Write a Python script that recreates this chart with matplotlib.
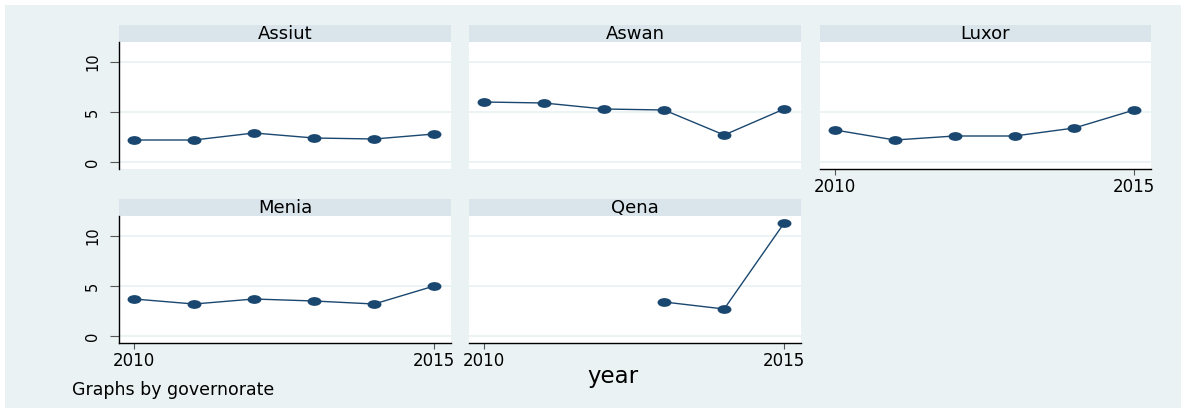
import matplotlib
matplotlib.use("Agg")
import matplotlib.pyplot as plt
import numpy as np
from matplotlib.path import Path
from matplotlib.transforms import Affine2D
from matplotlib.patches import Rectangle

# ---- data ----
years = [2010, 2011, 2012, 2013, 2014, 2015]
panels = ["Assiut", "Aswan", "Luxor", "Menia", "Qena"]
assiut = [2.2, 2.2, 2.9, 2.4, 2.3, 2.8]
aswan = [6.0, 5.9, 5.3, 5.2, 2.7, 5.3]
luxor = [3.2, 2.2, 2.6, 2.6, 3.4, 5.2]
menia = [3.7, 3.2, 3.7, 3.5, 3.2, 5.0]
qena = [np.nan, np.nan, np.nan, 3.4, 2.7, 11.3]
series = [assiut, aswan, luxor, menia, qena]
yticks = [0, 5, 10]
xticks = [2010, 2015]
xtitle = "year"
note = "Graphs by governorate"

# ---- style ----
W, H = 1186, 413
BG = "#eaf2f3"
BAND = "#d9e5eb"
NAVY = "#1a476f"
FONT = "DejaVu Sans"
plt.rcParams["font.family"] = [FONT]

fig = plt.figure(figsize=(W / 100, H / 100), dpi=100)
fig.patch.set_facecolor("white")
fig.patches.append(Rectangle((5 / W, 1 - 408 / H), (1181 - 5) / W, (408 - 5) / H,
                             transform=fig.transFigure, facecolor=BG,
                             edgecolor="none", zorder=-10))

def rect(x0, y0, x1, y1):
    return [x0 / W, 1 - y1 / H, (x1 - x0) / W, (y1 - y0) / H]

ellipse = Path.unit_circle().transformed(Affine2D().scale(1.7, 1.0))

col_x = [(119, 451), (469, 801), (820, 1151)]
row_y = [(25, 42, 169), (199, 216, 343)]
layout = [(0, 0), (0, 1), (0, 2), (1, 0), (1, 1)]
bottom_panels = {"Luxor", "Menia", "Qena"}

for name, vals, (r, c) in zip(panels, series, layout):
    x0, x1 = col_x[c]
    hy0, py0, py1 = row_y[r]
    # header band
    hax = fig.add_axes(rect(x0, hy0, x1, py0))
    hax.set_facecolor(BAND)
    hax.set_xticks([]); hax.set_yticks([])
    for s in hax.spines.values():
        s.set_visible(False)
    hax.text(0.5, 0.45, name, ha="center", va="center", fontsize=13,
             transform=hax.transAxes, color="black")
    # plot area
    ax = fig.add_axes(rect(x0, py0, x1, py1))
    ax.set_facecolor("white")
    ax.plot(years, vals, color=NAVY, lw=1.0, marker=ellipse, markersize=9,
            markerfacecolor=NAVY, markeredgecolor=NAVY, zorder=3)
    ax.set_xlim(2009.75, 2015.28)
    ax.set_ylim(-0.7, 12.0)
    for yv in yticks:
        ax.axhline(yv, color=BG, lw=1.3, zorder=1)
    for s in ax.spines.values():
        s.set_visible(False)
    if c == 0:
        ax.spines["left"].set_visible(True)
        ax.spines["left"].set_color("black")
        ax.spines["left"].set_linewidth(1.0)
        ax.set_yticks(yticks)
        ax.set_yticklabels([str(v) for v in yticks], rotation=90, va="center",
                           fontsize=10.5)
        ax.tick_params(axis="y", length=6.5, width=0.8, color="#555555", pad=7)
    else:
        ax.set_yticks([])
    if name in bottom_panels:
        ax.spines["bottom"].set_visible(True)
        ax.spines["bottom"].set_color("black")
        ax.spines["bottom"].set_linewidth(1.0)
        ax.set_xticks(xticks)
        ax.set_xticklabels([str(v) for v in xticks], fontsize=12)
        ax.tick_params(axis="x", length=4, width=0.8, color="#555555", pad=2.5)
    else:
        ax.set_xticks([])

fig.text(613 / W, 1 - 376 / H, xtitle, ha="center", va="center", fontsize=16.5)
fig.text(72 / W, 1 - 390 / H, note, ha="left", va="center", fontsize=12.5)

fig.savefig("out.png", dpi=100, facecolor=fig.get_facecolor())
